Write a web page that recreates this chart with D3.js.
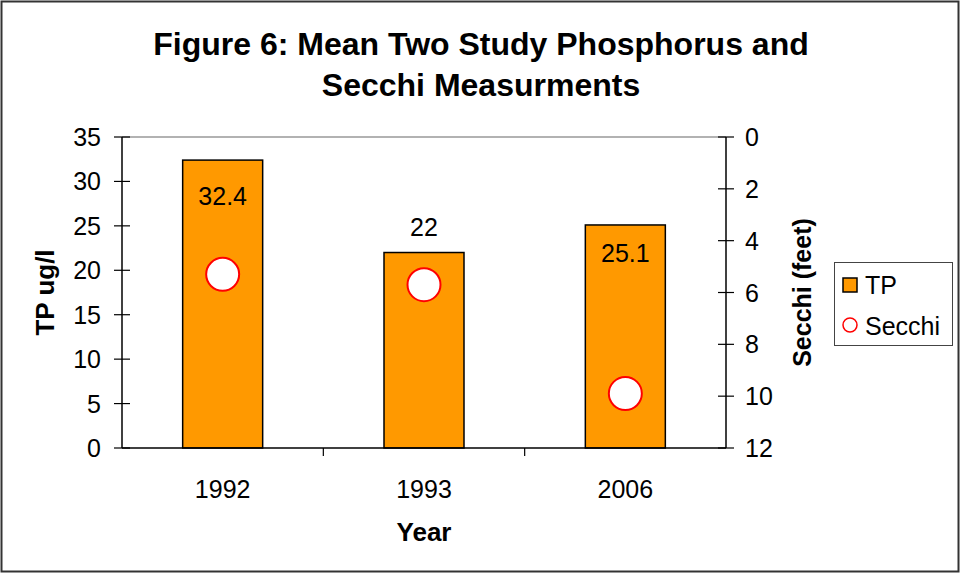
<!DOCTYPE html>
<html>
<head>
<meta charset="utf-8">
<script src="https://cdn.jsdelivr.net/npm/d3@7"></script>
<style>
    body { margin: 0; background: #fff; }
    text { font-family: "Liberation Sans", Arial, sans-serif; fill: #000; }
</style>
</head>
<body>
<svg id="chart" width="960" height="573"></svg>
<script>
const years = ['1992', '1993', '2006'];
const tpValues = [32.4, 22, 25.1];
const secchiValues = [5.3, 5.7, 9.9];
const tpTicks = [0, 5, 10, 15, 20, 25, 30, 35];
const secchiTicks = [0, 2, 4, 6, 8, 10, 12];

// label offsets relative to bar top (moved by hand in the original)
const labelOffsets = [45, -17, 37];

const settings = {
    width: 960,
    height: 573,
    margins: { left: 122, right: 234, top: 137, bottom: 125 }
};

const svg = d3.select('#chart');
const plotW = settings.width - settings.margins.left - settings.margins.right;
const plotH = settings.height - settings.margins.top - settings.margins.bottom;

// outer frame
svg.append('rect')
    .attr('x', 1.5).attr('y', 1.5)
    .attr('width', settings.width - 3).attr('height', settings.height - 3)
    .attr('fill', '#fff').attr('stroke', '#333').attr('stroke-width', 2);

// title
const title = svg.append('text')
    .attr('text-anchor', 'middle')
    .style('font-size', '32px')
    .style('font-weight', 'bold');
title.append('tspan').attr('x', 481).attr('y', 55).text('Figure 6: Mean Two Study Phosphorus and');
title.append('tspan').attr('x', 481).attr('y', 96).text('Secchi Measurments');

const chart = svg.append('g')
    .attr('transform', `translate(${settings.margins.left} ${settings.margins.top})`);

const xBand = d3.scaleBand().domain(years).range([0, plotW]);
const yScale = d3.scaleLinear().domain([0, 35]).range([plotH, 0]);
const y2Scale = d3.scaleLinear().domain([0, 12]).range([0, plotH]);
const cx = (i) => xBand(years[i]) + xBand.bandwidth() / 2;

// top border of plot area
chart.append('line')
    .attr('x1', 0).attr('x2', plotW).attr('y1', 0).attr('y2', 0)
    .attr('stroke', '#999').attr('stroke-width', 1.5);

// bars
chart.selectAll('.bar').data(tpValues).enter().append('rect')
    .attr('class', 'bar')
    .attr('x', (d, i) => cx(i) - 40)
    .attr('width', 80)
    .attr('y', (d) => yScale(d))
    .attr('height', (d) => plotH - yScale(d))
    .attr('fill', '#FF9900')
    .attr('stroke', '#000')
    .attr('stroke-width', 1.5);

// bar labels
chart.selectAll('.lbl').data(tpValues).enter().append('text')
    .attr('class', 'lbl')
    .attr('x', (d, i) => cx(i))
    .attr('y', (d, i) => yScale(d) + labelOffsets[i])
    .attr('text-anchor', 'middle')
    .style('font-size', '25px')
    .text((d) => d);

// secchi markers
chart.selectAll('.dot').data(secchiValues).enter().append('circle')
    .attr('class', 'dot')
    .attr('cx', (d, i) => cx(i))
    .attr('cy', (d) => y2Scale(d))
    .attr('r', 16.5)
    .attr('fill', '#fff')
    .attr('stroke', '#FF0000')
    .attr('stroke-width', 2);

// left axis
const leftAxis = chart.append('g');
leftAxis.append('line').attr('x1', 0).attr('x2', 0).attr('y1', 0).attr('y2', plotH)
    .attr('stroke', '#000').attr('stroke-width', 1.5);
leftAxis.selectAll('.tick').data(tpTicks).enter().append('line')
    .attr('x1', -8).attr('x2', 8)
    .attr('y1', (d) => yScale(d)).attr('y2', (d) => yScale(d))
    .attr('stroke', '#000').attr('stroke-width', 1.2);
leftAxis.selectAll('.tl').data(tpTicks).enter().append('text')
    .attr('x', -21)
    .attr('y', (d) => yScale(d) + 9)
    .attr('text-anchor', 'end')
    .style('font-size', '25px')
    .text((d) => d);

// right axis
const rightAxis = chart.append('g').attr('transform', `translate(${plotW} 0)`);
rightAxis.append('line').attr('x1', 0).attr('x2', 0).attr('y1', 0).attr('y2', plotH)
    .attr('stroke', '#000').attr('stroke-width', 1.5);
rightAxis.selectAll('.tick').data(secchiTicks).enter().append('line')
    .attr('x1', -8).attr('x2', 8)
    .attr('y1', (d) => y2Scale(d)).attr('y2', (d) => y2Scale(d))
    .attr('stroke', '#000').attr('stroke-width', 1.2);
rightAxis.selectAll('.tl').data(secchiTicks).enter().append('text')
    .attr('x', 19)
    .attr('y', (d) => y2Scale(d) + 9)
    .attr('text-anchor', 'start')
    .style('font-size', '25px')
    .text((d) => d);

// bottom axis
const bottomAxis = chart.append('g').attr('transform', `translate(0 ${plotH})`);
bottomAxis.append('line').attr('x1', 0).attr('x2', plotW).attr('y1', 0).attr('y2', 0)
    .attr('stroke', '#000').attr('stroke-width', 1.5);
bottomAxis.selectAll('.tick').data(years.slice(1)).enter().append('line')
    .attr('x1', (d) => xBand(d)).attr('x2', (d) => xBand(d))
    .attr('y1', 0).attr('y2', 8)
    .attr('stroke', '#000').attr('stroke-width', 1.2);
bottomAxis.selectAll('.tl').data(years).enter().append('text')
    .attr('x', (d) => xBand(d) + xBand.bandwidth() / 2)
    .attr('y', 50)
    .attr('text-anchor', 'middle')
    .style('font-size', '25px')
    .text((d) => d);

// axis titles
svg.append('text')
    .attr('transform', `translate(54 ${settings.margins.top + plotH / 2}) rotate(-90)`)
    .attr('text-anchor', 'middle')
    .style('font-size', '26px').style('font-weight', 'bold')
    .text('TP ug/l');
svg.append('text')
    .attr('transform', `translate(811 ${settings.margins.top + plotH / 2}) rotate(-90)`)
    .attr('text-anchor', 'middle')
    .style('font-size', '25px').style('font-weight', 'bold')
    .text('Secchi (feet)');
svg.append('text')
    .attr('x', settings.margins.left + plotW / 2)
    .attr('y', 541)
    .attr('text-anchor', 'middle')
    .style('font-size', '26px').style('font-weight', 'bold')
    .text('Year');

// legend
const legend = svg.append('g').attr('transform', 'translate(834 262)');
legend.append('rect')
    .attr('x', 0.5).attr('y', 0.5).attr('width', 118).attr('height', 83)
    .attr('fill', '#fff').attr('stroke', '#444').attr('stroke-width', 1);
legend.append('rect')
    .attr('x', 9).attr('y', 16).attr('width', 14).attr('height', 14)
    .attr('fill', '#FF9900').attr('stroke', '#000').attr('stroke-width', 1.5);
legend.append('text').attr('x', 31).attr('y', 32).style('font-size', '25px').text('TP');
legend.append('circle')
    .attr('cx', 16).attr('cy', 63).attr('r', 7)
    .attr('fill', '#fff').attr('stroke', '#FF0000').attr('stroke-width', 1.5);
legend.append('text').attr('x', 31).attr('y', 73).style('font-size', '25px').text('Secchi');
</script>
</body>
</html>
